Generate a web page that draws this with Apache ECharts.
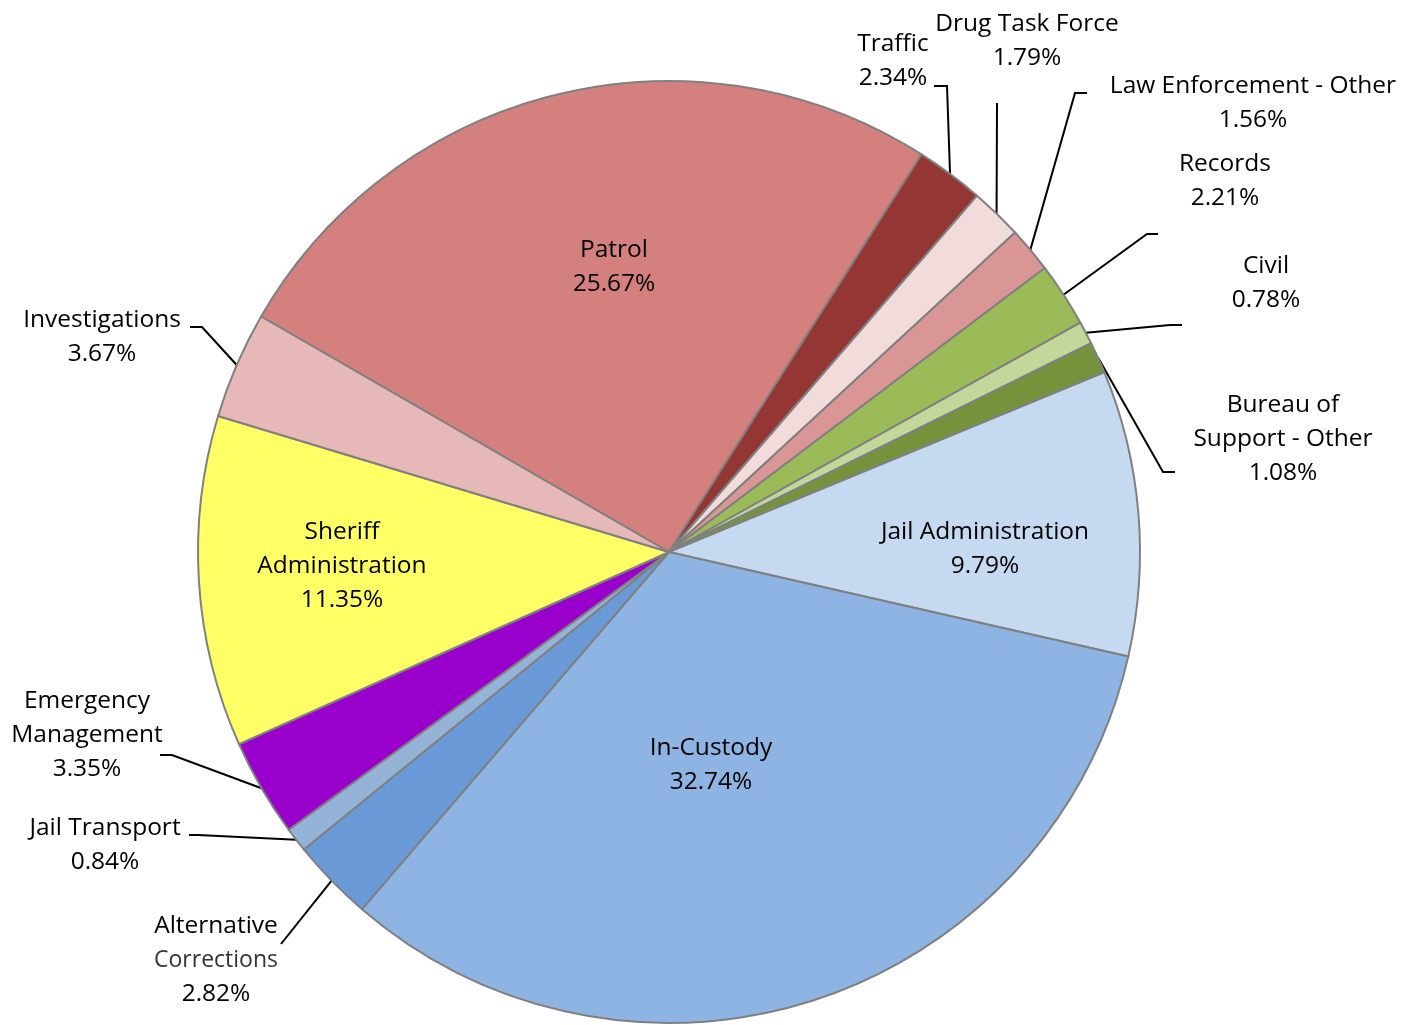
<!DOCTYPE html>
<html>
<head>
<meta charset="utf-8">
<title>Sheriff's Office Budget by Program</title>
<script src="https://cdn.jsdelivr.net/npm/echarts@6/dist/echarts.min.js"></script>
<style>
  html, body { margin: 0; padding: 0; background: #ffffff; }
  #chart { width: 1419px; height: 1025px; }
</style>
</head>
<body>
<div id="chart"></div>
<script>
// Programs in clockwise order, starting with Patrol
const categories = [
  'Patrol', 'Traffic', 'Drug Task Force', 'Law Enforcement - Other', 'Records',
  'Civil', 'Bureau of Support - Other', 'Jail Administration', 'In-Custody',
  'Alternative Corrections', 'Jail Transport', 'Emergency Management',
  'Sheriff Administration', 'Investigations'
];

// Share of total budget, percent
const shares = [
  25.67, 2.34, 1.79, 1.56, 2.21,
  0.78, 1.08, 9.79, 32.74,
  2.82, 0.84, 3.35,
  11.35, 3.67
];

const sliceColors = [
  '#D3807F', '#943634', '#F2DCDB', '#DA9694', '#9BBB59',
  '#C4D79B', '#76933C', '#C5D9F1', '#8DB4E2',
  '#6A9BD8', '#95B3D7', '#9900CC',
  '#FFFF66', '#E6B8B7'
];

// How each program name is broken over lines in its label
const labelLines = {
  'Sheriff Administration': ['Sheriff', 'Administration'],
  'Emergency Management': ['Emergency', 'Management'],
  'Bureau of Support - Other': ['Bureau of', 'Support - Other'],
  'Alternative Corrections': ['Alternative', '{s|Corrections}']
};

// Programs whose labels sit on the slice itself
const insideLabels = ['Patrol', 'Jail Administration', 'In-Custody', 'Sheriff Administration'];

// Label placement: block centre, plus the elbow and end of each leader line
const labelPlacement = {
  'Patrol':                    { pos: [614, 267] },
  'Traffic':                   { pos: [893, 61],   line: [[947, 86], [934, 86]] },
  'Drug Task Force':           { pos: [1027, 41],  line: [[997, 103], [997, 103]] },
  'Law Enforcement - Other':   { pos: [1253, 103], line: [[1075, 93], [1087, 93]] },
  'Records':                   { pos: [1225, 181], line: [[1147, 234], [1158, 234]] },
  'Civil':                     { pos: [1266, 283], line: [[1170, 325], [1182, 325]] },
  'Bureau of Support - Other': { pos: [1283, 439], line: [[1163, 472], [1175, 472]] },
  'Jail Administration':       { pos: [985, 549] },
  'In-Custody':                { pos: [711, 765] },
  'Alternative Corrections':   { pos: [216, 960],  line: [[281, 944], [281, 944]] },
  'Jail Transport':            { pos: [105, 845],  line: [[198, 835], [189, 835]] },
  'Emergency Management':      { pos: [87, 735],   line: [[172, 755], [160, 755]] },
  'Sheriff Administration':    { pos: [342, 566] },
  'Investigations':            { pos: [102, 337],  line: [[202, 327], [190, 327]] }
};

const FONT = '"Open Sans", "Noto Sans", sans-serif';

const pieData = categories.map(function (name, i) {
  const inside = insideLabels.indexOf(name) >= 0;
  return {
    name: name,
    value: shares[i],
    itemStyle: { color: sliceColors[i] },
    label: { position: inside ? 'inside' : 'outside' },
    labelLine: { show: !inside }
  };
});

const chart = echarts.init(document.getElementById('chart'), null, { renderer: 'canvas' });

chart.setOption({
  backgroundColor: '#ffffff',
  animation: false,
  series: [{
    type: 'pie',
    center: [669, 552],
    radius: 471,
    startAngle: 150,
    clockwise: true,
    avoidLabelOverlap: false,
    data: pieData,
    itemStyle: { borderColor: '#808080', borderWidth: 2 },
    emphasis: { disabled: true },
    label: {
      show: true,
      color: '#000000',
      fontFamily: FONT,
      fontSize: 24.5,
      lineHeight: 34,
      align: 'center',
      formatter: function (p) {
        const lines = labelLines[p.name] || [p.name];
        return lines.join('\n') + '\n' + p.value.toFixed(2) + '%';
      },
      rich: {
        s: { fontFamily: FONT, fontSize: 23, lineHeight: 34, color: '#333333' }
      }
    },
    labelLine: {
      show: true,
      length: 20,
      length2: 10,
      lineStyle: { color: '#000000', width: 2 }
    },
    labelLayout: function (params) {
      const cfg = labelPlacement[categories[params.dataIndex]];
      const out = { x: cfg.pos[0], y: cfg.pos[1], align: 'center', verticalAlign: 'middle' };
      if (cfg.line && params.labelLinePoints) {
        out.labelLinePoints = [params.labelLinePoints[0], cfg.line[0], cfg.line[1]];
      }
      return out;
    }
  }]
});
</script>
</body>
</html>
